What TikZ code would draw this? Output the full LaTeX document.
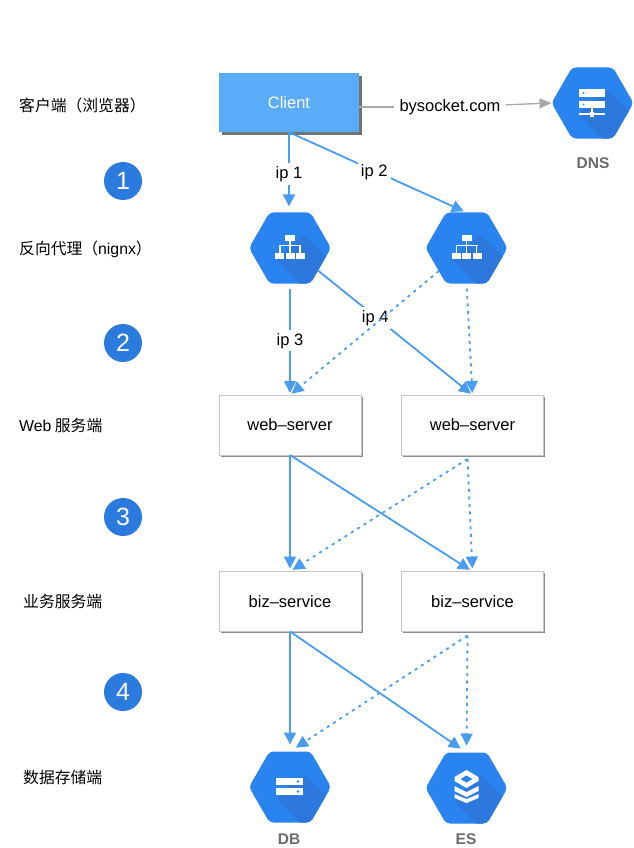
\documentclass[tikz,border=0pt]{standalone}
\usepackage{fontspec}
\setmainfont{Liberation Sans}
\newfontfamily\cjk{Noto Sans CJK SC}
\usetikzlibrary{arrows.meta,shapes.geometric,shadows}
\definecolor{hexblue}{HTML}{2A84F0}
\definecolor{hexdark}{HTML}{2C78DC}
\definecolor{linkblue}{HTML}{4A9CEE}
\definecolor{clientblue}{HTML}{5AABF8}
\definecolor{stepblue}{HTML}{2B7BDE}
\definecolor{dnsgray}{HTML}{A9A9A9}
\tikzset{
	hexnode/.style = {regular polygon, regular polygon sides = 6,
		minimum size = 82pt, inner sep = 0, outer sep = 0, rounded corners = 4pt, fill = hexblue,
		path picture = {\fill[hexdark, shift = {(path picture bounding box.center)}]
			(14,-14) -- (60,32) -- (60,60) -- (34,60) -- (-14,12) -- cycle;}},
	boxnode/.style = {draw = black!22, fill = white, minimum width = 142pt, minimum height = 60pt,
		inner sep = 0, outer sep = 0, font = \fontsize{16.5}{19}\selectfont,
		drop shadow = {shadow xshift = 1.5pt, shadow yshift = -1.5pt, fill = black!45, opacity = 1}},
	stepnode/.style = {circle, fill = stepblue, text = white, minimum size = 38pt, inner sep = 0,
		font = \fontsize{25}{28}\selectfont},
	tiernode/.style = {anchor = west, inner sep = 0, font = \cjk\fontsize{15.8}{18}\selectfont},
	iconname/.style = {text = black!58, inner sep = 0, font = \bfseries\fontsize{15.5}{18}\selectfont},
	iplabel/.style = {fill = white, inner sep = 3pt, yshift = -1.5pt, font = \fontsize{16.5}{19}\selectfont},
	link/.style = {draw = linkblue, line width = 1.8pt, -{Triangle[length = 12pt, width = 12pt]}},
	dotlink/.style = {link, dash pattern = on 3pt off 4.5pt},
	graylink/.style = {draw = dnsgray, line width = 1.3pt}
}
\begin{document}
\begin{tikzpicture}[x = 1pt, y = -1pt]
	\useasboundingbox (0,0) rectangle (633,848);

	% tier names
	\node[tiernode] (tierClient) at (19,105.5) {客户端（浏览器）};
	\node[tiernode] (tierProxy) at (19,249.5) {反向代理（{\fontspec{Liberation Sans}nignx}）};
	\node[tiernode] (tierWeb) at (19,425.5) {{\fontspec{Liberation Sans}Web} 服务端};
	\node[tiernode] (tierBiz) at (23,601.5) {业务服务端};
	\node[tiernode] (tierData) at (23,777.5) {数据存储端};

	% numbered steps
	\foreach \n/\y in {1/181, 2/343, 3/517, 4/692} {
		\node[stepnode] (step\n) at (123,\y) {\n};
	}

	% boxes
	\node[minimum width = 140pt, minimum height = 59pt, fill = clientblue, text = white, inner sep = 0,
		font = \fontsize{16.5}{19}\selectfont,
		drop shadow = {shadow xshift = 3pt, shadow yshift = -3pt, fill = black!55, opacity = 1}]
		(client) at (289,102.5) {Client};
	\node[boxnode] (web1) at (290,425) {web--server};
	\node[boxnode] (web2) at (472.5,425) {web--server};
	\node[boxnode] (biz1) at (290,601.5) {biz--service};
	\node[boxnode] (biz2) at (472.5,601.5) {biz--service};

	% hexagons
	\node[hexnode] (dns) at (592.5,103) {};
	\node[hexnode] (lb1) at (290,248) {};
	\node[hexnode] (lb2) at (466.5,248) {};
	\node[hexnode] (db) at (290,787) {};
	\node[hexnode] (es) at (466.5,788) {};
	\node[iconname] (dnsName) at (593,163) {DNS};
	\node[iconname] (dbName) at (289,839.5) {DB};
	\node[iconname] (esName) at (466,839.5) {ES};

	% server icon
	\begin{scope}[shift = {(dns.center)}]
		\fill[white] (-14,-14) rectangle (12,-6);
		\fill[white] (-14,-2) rectangle (12,5);
		\fill[white] (-2,5) rectangle (0,10);
		\fill[white] (-14,10) rectangle (12,12.5);
		\fill[white] (-3,9) rectangle (1,14);
		\fill[hexblue] (-9,-10) circle (1);
		\fill[hexblue] (-9,1.5) circle (1);
	\end{scope}

	% proxy icons
	\foreach \n in {lb1, lb2} {
		\begin{scope}[shift = {(\n.center)}]
			\fill[white] (-5,-13) rectangle (5,-7);
			\fill[white] (-0.8,-7) rectangle (0.8,5);
			\fill[white] (-11,-3.3) rectangle (11,-1.7);
			\fill[white] (-10.8,-3) rectangle (-9.2,5);
			\fill[white] (9.2,-3) rectangle (10.8,5);
			\fill[white] (-15,5) rectangle (-6,11);
			\fill[white] (-4.5,5) rectangle (4.5,11);
			\fill[white] (6,5) rectangle (15,11);
		\end{scope}
	}

	% db icon
	\begin{scope}[shift = {(db.center)}]
		\fill[white] (-14,-9) rectangle (13,-2);
		\fill[white] (-14,1) rectangle (13,8);
		\fill[hexblue] (8,-5.5) circle (1.3);
		\fill[hexblue] (8,4.5) circle (1.3);
	\end{scope}

	% es icon
	\begin{scope}[shift = {(es.center)}]
		\fill[white] (-12,-11) -- (0,-18) -- (12,-11) -- (12,-7) -- (0,0) -- (-12,-7) -- cycle;
		\fill[hexblue] (-6,-9) -- (0,-12.5) -- (6,-9) -- (0,-5.5) -- cycle;
		\fill[white] (-12,-2) -- (0,4) -- (12,-2) -- (12,3) -- (0,9) -- (-12,3) -- cycle;
		\fill[white] (-12,6) -- (0,11) -- (12,6) -- (12,10) -- (0,15) -- (-12,10) -- cycle;
	\end{scope}

	% client to dns
	\node[inner sep = 5pt, font = \fontsize{16.5}{19}\selectfont] (domain) at (450,107) {bysocket.com};
	\draw[graylink] ([shift = {(0,4.5)}]client.east) -- (domain);
	\draw[graylink, -{Triangle[length = 12pt, width = 10pt]}] (domain) -- (dns.west);

	% client to proxies
	\draw[link, shorten > = 6pt] (client.south) -- node[iplabel] (ip1) {ip 1} (lb1.north -| client.south);
	\draw[link, shorten > = 3pt] (client.south) -- node[iplabel, pos = 0.48] (ip2) {ip 2} (lb2.north);

	% proxies to web
	\draw[link, shorten < = 5pt, shorten > = 2pt] (lb1.south) -- node[iplabel] (ip3) {ip 3} (web1.north);
	\draw[link, shorten > = 2pt] (lb1) -- node[iplabel, pos = 0.37] (ip4) {ip 4} (web2.north);
	\draw[dotlink, shorten > = 2pt] (lb2) -- (web1.north);
	\draw[dotlink, shorten < = 5pt, shorten > = 2pt] (lb2.south) -- (web2.north);

	% web to biz and biz to storage
	\foreach \up/\lo/\ro/\gap in {web/biz1/biz2/3, biz/db/es/7} {
		\coordinate (\up Out) at ([shift = {(-5,4)}]\up2.south);
		\draw[link, shorten > = \gap pt] (\up1.south) -- (\lo.north);
		\draw[link, shorten > = \gap pt] (\up1.south) -- (\ro.north);
		\draw[dotlink, shorten > = \gap pt] (\up Out) -- (\lo.north);
		\draw[dotlink, shorten > = \gap pt] (\up Out) -- (\ro.north);
	}
\end{tikzpicture}
\end{document}
